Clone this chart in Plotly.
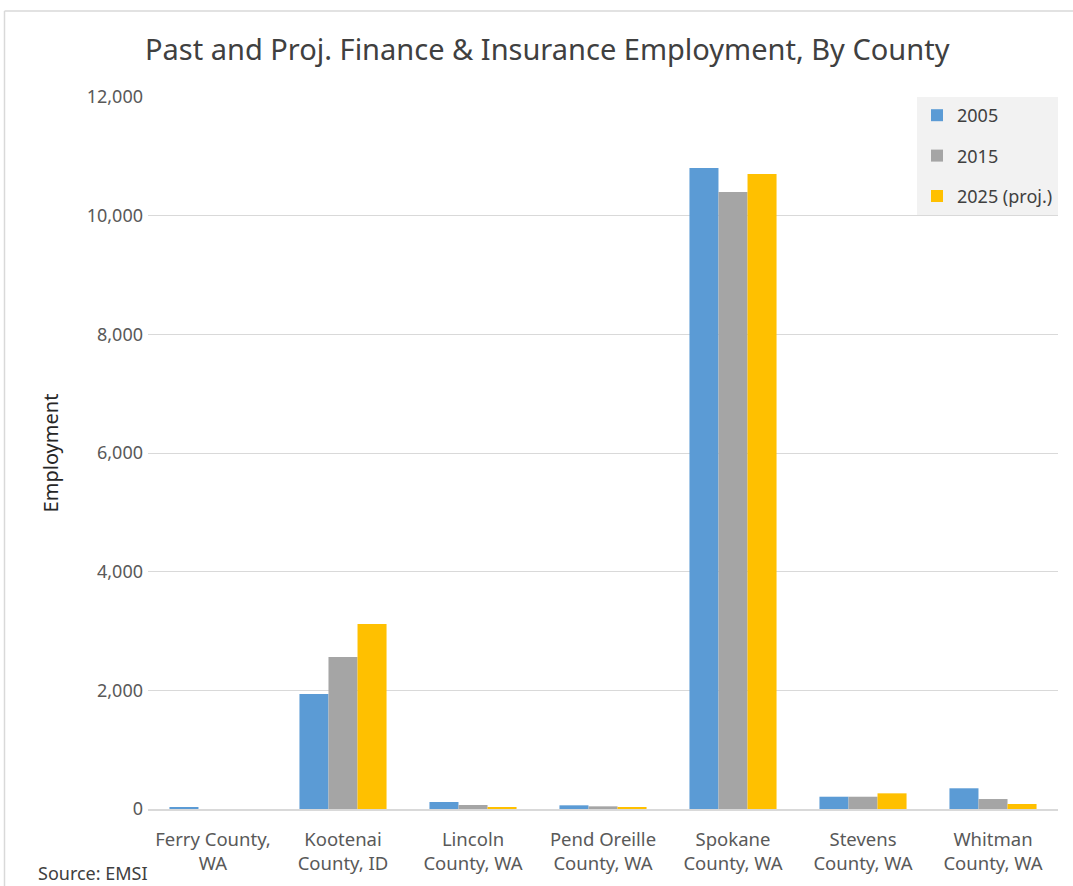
import plotly.graph_objects as go

counties = ["Ferry County,<br>WA", "Kootenai<br>County, ID", "Lincoln<br>County, WA",
            "Pend Oreille<br>County, WA", "Spokane<br>County, WA", "Stevens<br>County, WA",
            "Whitman<br>County, WA"]
emp_2005 = [25, 1938, 118, 62, 10804, 207, 349]
emp_2015 = [0, 2562, 67, 45, 10400, 207, 168]
emp_2025 = [0, 3118, 25, 25, 10703, 264, 84]

series = [("2005", emp_2005, "#5b9bd5"),
          ("2015", emp_2015, "#a5a5a5"),
          ("2025 (proj.)", emp_2025, "#ffc000")]

FONT = "Noto Sans"
W, H = 1073, 886
L, R, T, B = 148, 15, 97, 77

fig = go.Figure()
for i, (name, vals, color) in enumerate(series):
    fig.add_trace(go.Bar(x=counties, y=vals, name=name, marker_color=color,
                         marker_line_width=0, legendgroup=str(i)))

pw = W - L - R
ph = H - T - B
# light frame around the chart area (top and left edges)
fx = (4.5 - L) / pw
fy = (H - B - 11) / ph
fig.add_shape(type="line", xref="paper", yref="paper", x0=fx, x1=2, y0=fy, y1=fy,
              line=dict(color="#d9d9d9", width=1.5))
fig.add_shape(type="line", xref="paper", yref="paper", x0=fx, x1=fx, y0=fy, y1=-1,
              line=dict(color="#d9d9d9", width=1.5))

fig.add_annotation(text="Source: EMSI", xref="paper", yref="paper",
                   x=(36 - L) / pw, y=-(873 - (H - B)) / ph, xanchor="left", yanchor="middle",
                   showarrow=False, font=dict(family=FONT, size=18, color="#404040"))

fig.update_layout(
    width=W, height=H,
    margin=dict(l=L, r=R, t=T, b=B),
    paper_bgcolor="white", plot_bgcolor="white",
    title=dict(text="Past and Proj. Finance & Insurance Employment, By County",
               x=0.51, xanchor="center", y=1 - 50 / H, yanchor="middle",
               font=dict(family=FONT, size=29, color="#404040")),
    barmode="group", bargap=0.33, bargroupgap=0,
    font=dict(family=FONT, size=18, color="#595959"),
    legend=dict(x=1, xanchor="right", y=1, yanchor="top", bgcolor="#f2f2f2",
                traceorder="grouped", tracegroupgap=14,
                font=dict(family=FONT, size=18, color="#404040"),
                itemwidth=30),
    xaxis=dict(showgrid=False, showline=True, linecolor="#d9d9d9", linewidth=1.5,
               ticks="", ticklabelstandoff=13,
               tickfont=dict(family=FONT, size=18.5, color="#595959")),
    yaxis=dict(range=[0, 12000], dtick=2000, tickformat=",", showgrid=True,
               gridcolor="#d9d9d9", gridwidth=1, zeroline=False, ticks="",
               ticklabelstandoff=4,
               tickfont=dict(family=FONT, size=18, color="#595959"),
               title=dict(text="Employment", standoff=22,
                          font=dict(family=FONT, size=20, color="#262626"))),
)

fig.write_html("out.html")
